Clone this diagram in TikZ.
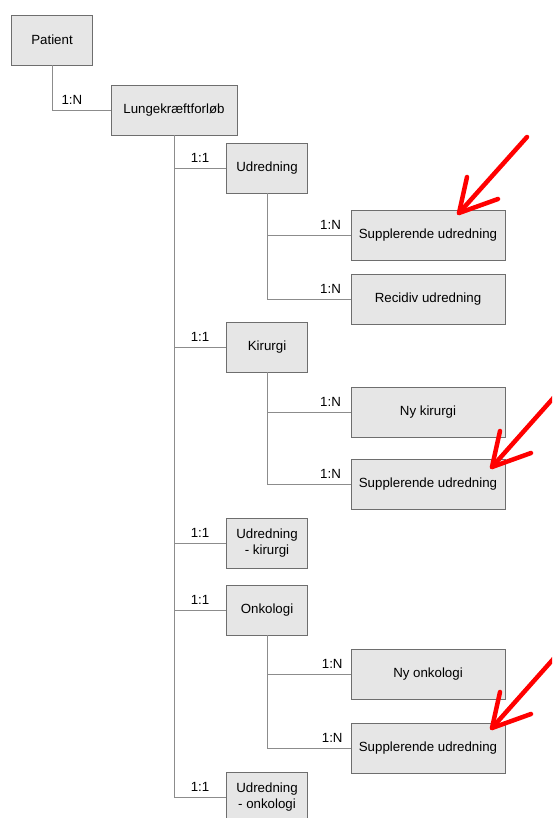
\documentclass[tikz,border=0pt]{standalone}
\usepackage{fontspec}
\setmainfont{Liberation Sans}
\usetikzlibrary{positioning}
\definecolor{boxfill}{RGB}{230,230,230}
\definecolor{boxline}{RGB}{110,110,110}
\definecolor{linkline}{RGB}{140,140,140}
\tikzset{
  ent/.style={rectangle, minimum width=81pt, minimum height=50pt, text centered, align=center, draw=boxline, fill=boxfill, line width=0.8pt, inner sep=2pt, font=\fontsize{13.3}{16}\selectfont},
  entw/.style={ent, minimum width=154pt},
  lnk/.style={draw=linkline, line width=0.9pt},
  card/.style={font=\fontsize{13.3}{16}\selectfont, inner sep=2pt, above=3pt},
  redarr/.style={draw=red, line width=4.5pt, line cap=round, line join=round}
}
\newcommand{\redarrow}[2]{%
  \draw[redarr] (#1) -- ++(#2);
  \draw[redarr] (#1) ++(8,-36) -- (#1) -- ++(39,-14);
}

\begin{document}
\begin{tikzpicture}[x=1pt, y=-1pt]
	\clip (0,0) rectangle (552,818);
	\node[ent] (pat) at (52,40) {Patient};
	\node[ent, minimum width=126pt] (lunge) at (174,110) {Lungekræftforløb};
	%
	\node[ent] (udr) at (267,168) {Udredning};
	\node[entw] (sup1) at (428,235) {Supplerende udredning};
	\node[entw] (rec) at (428,299) {Recidiv udredning};
	%
	\node[ent] (kir) at (267,347) {Kirurgi};
	\node[entw] (nykir) at (428,412) {Ny kirurgi};
	\node[entw] (sup2) at (428,484) {Supplerende udredning};
	%
	\node[ent] (udrkir) at (267,543) {Udredning\\- kirurgi};
	\node[ent] (onk) at (267,610) {Onkologi};
	\node[entw] (nyonk) at (428,674) {Ny onkologi};
	\node[entw] (sup3) at (428,748) {Supplerende udredning};
	\node[ent] (udronk) at (267,797) {Udredning\\- onkologi};
	%
	\draw[lnk] (pat.south) |- node[card, pos=0.67] {1:N} (lunge.west);
	\draw[lnk] (lunge.south) |- node[card, pos=0.75] {1:1} (udr.west);
	\draw[lnk] (lunge.south) |- node[card, pos=0.75] {1:1} (kir.west);
	\draw[lnk] (lunge.south) |- node[card, pos=0.75] {1:1} (udrkir.west);
	\draw[lnk] (lunge.south) |- node[card, pos=0.75] {1:1} (onk.west);
	\draw[lnk] (lunge.south) |- node[card, pos=0.75] {1:1} (udronk.west);
	%
	\draw[lnk] (udr.south) |- node[card, pos=0.88] {1:N} (sup1.west);
	\draw[lnk] (udr.south) |- node[card, pos=0.88] {1:N} (rec.west);
	\draw[lnk] (kir.south) |- node[card, pos=0.88] {1:N} (nykir.west);
	\draw[lnk] (kir.south) |- node[card, pos=0.88] {1:N} (sup2.west);
	\draw[lnk] (onk.south) |- node[card, pos=0.89] {1:N} (nyonk.west);
	\draw[lnk] (onk.south) |- node[card, pos=0.89] {1:N} (sup3.west);
	%
	\coordinate (tip1) at (459,213);
	\coordinate (tip2) at (492,467);
	\coordinate (tip3) at (492,728);
	\redarrow{tip1}{68,-76}
	\redarrow{tip2}{80,-90}
	\redarrow{tip3}{80,-90}
\end{tikzpicture}
\end{document}
